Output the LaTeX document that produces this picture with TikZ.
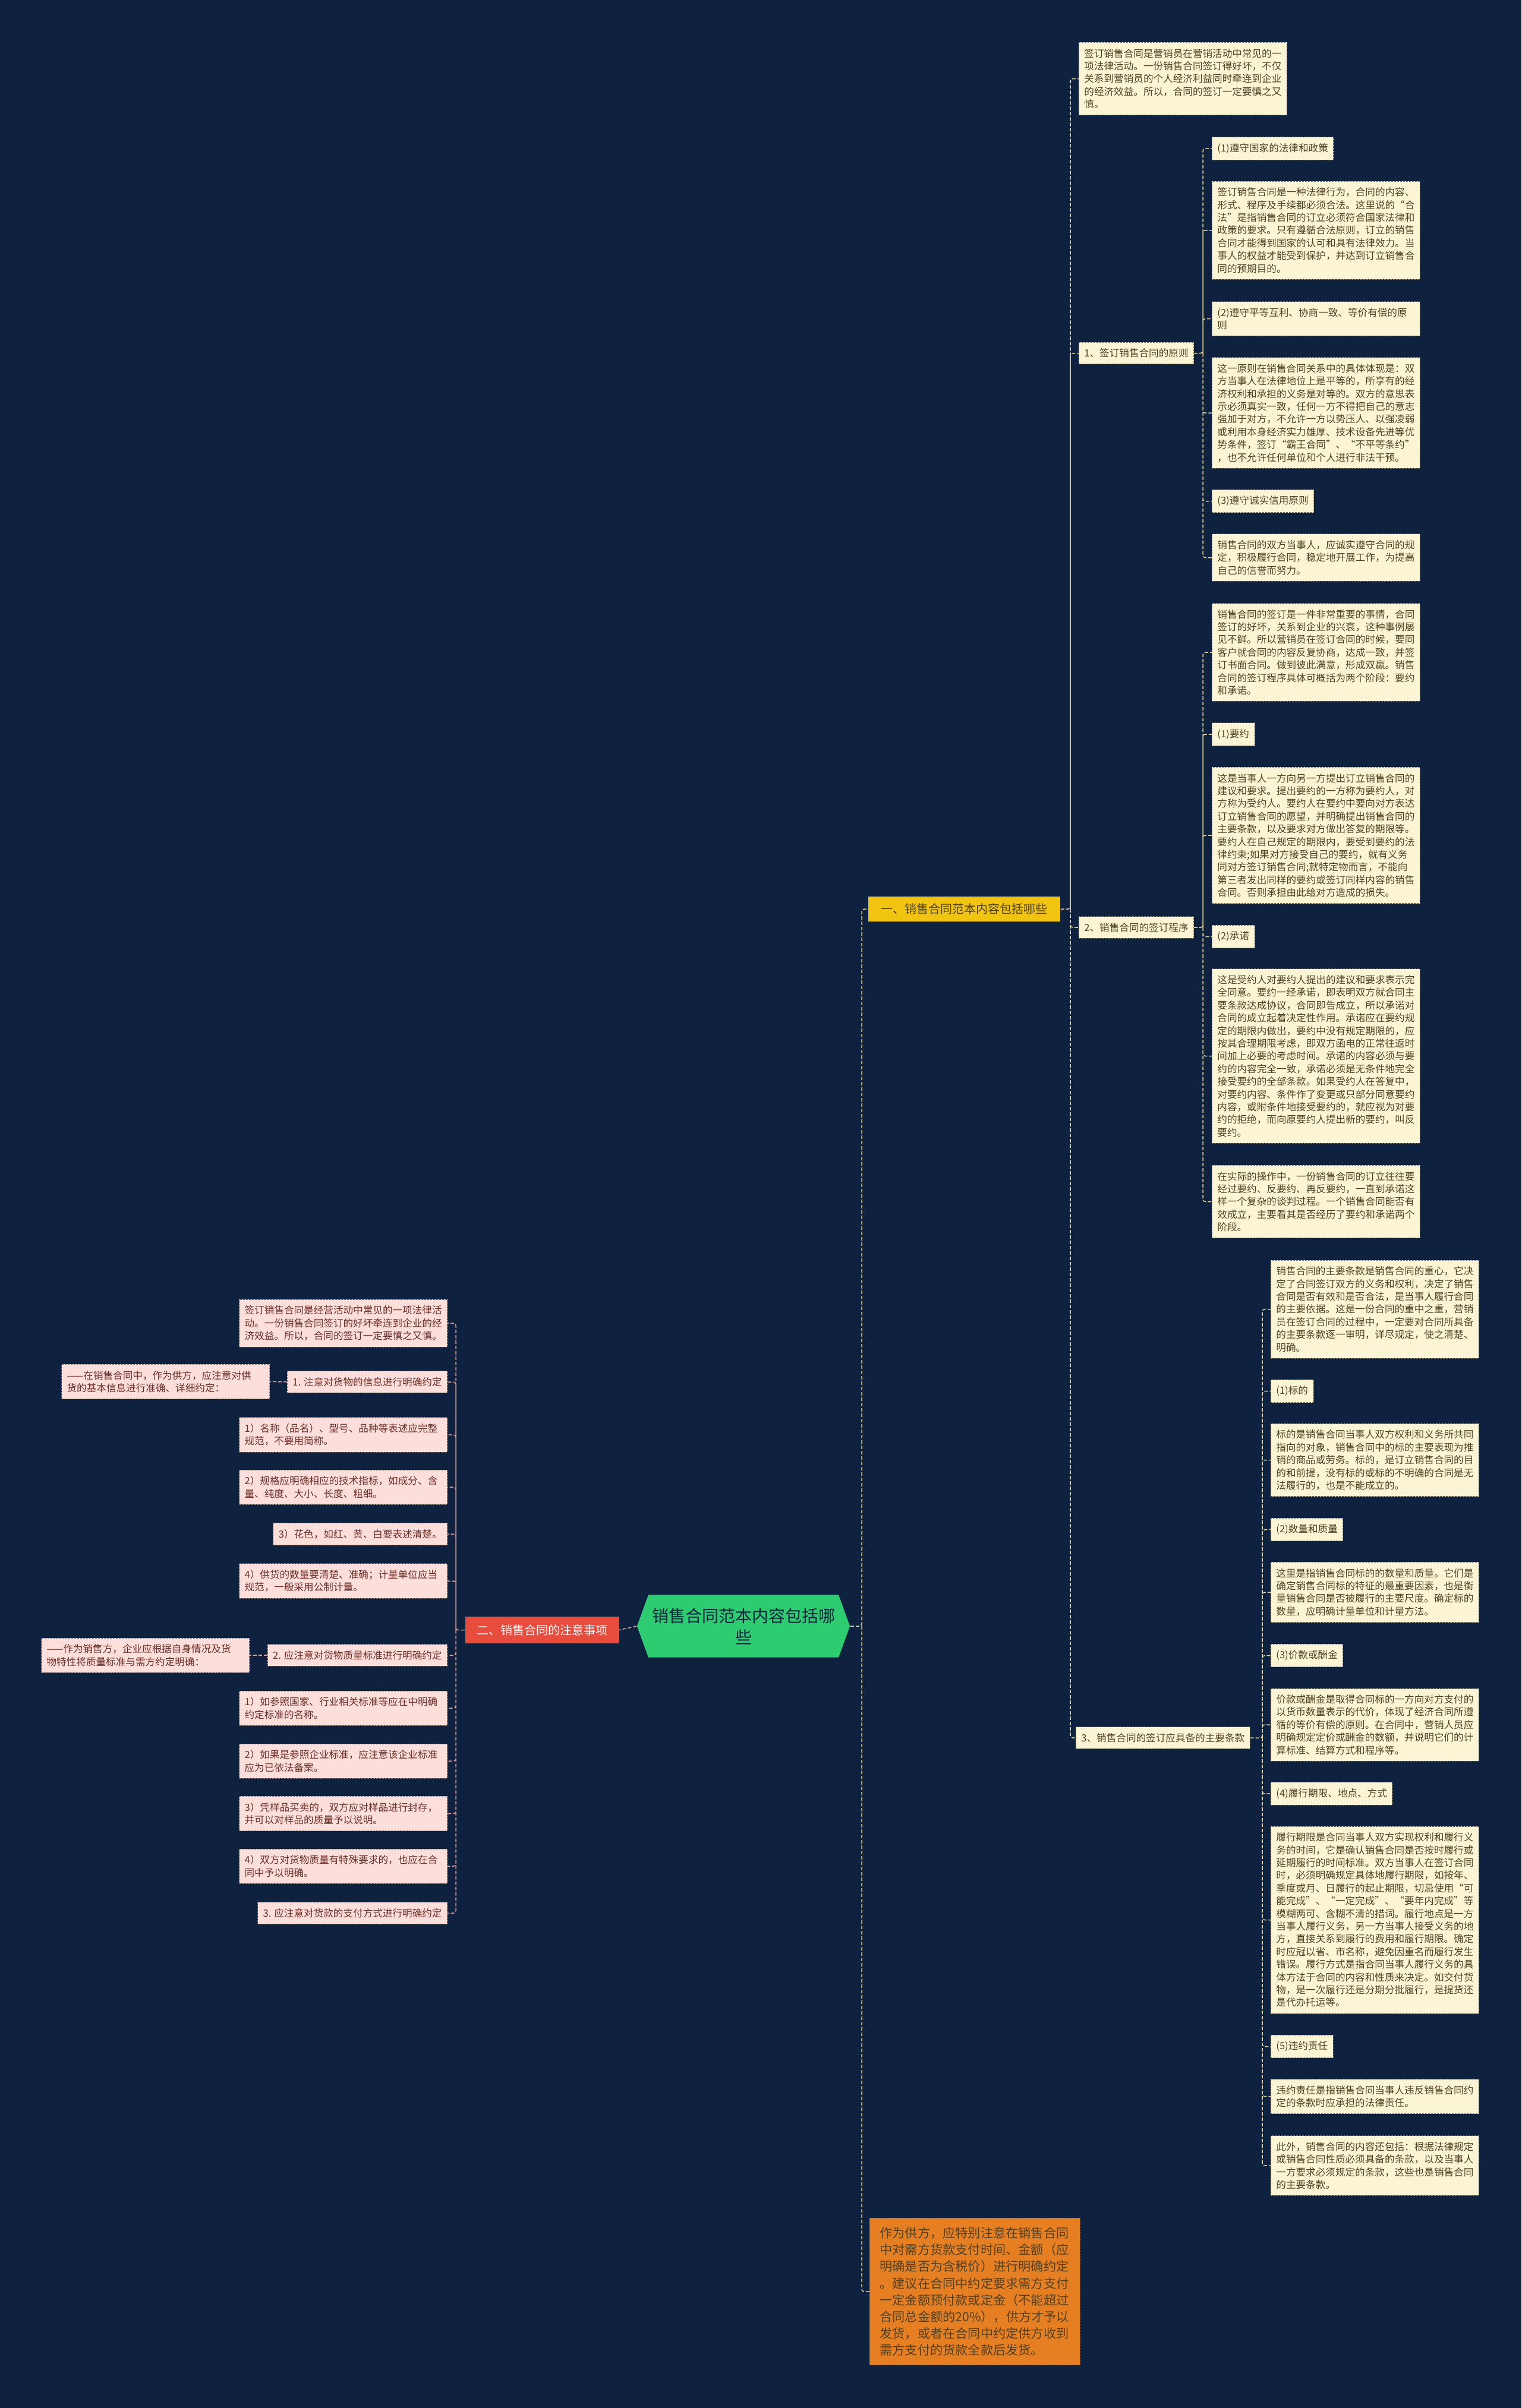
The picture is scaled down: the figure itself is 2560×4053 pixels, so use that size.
\documentclass[tikz,border=0pt]{standalone}
\usepackage{fontspec}
\setmainfont{Noto Sans CJK SC}
\usetikzlibrary{shapes.symbols}

\definecolor{bgnavy}{HTML}{0E2240}
\definecolor{creamfill}{HTML}{FCF5D5}
\definecolor{creamtext}{HTML}{4F4224}
\definecolor{pinkfill}{HTML}{FCDEDA}
\definecolor{pinktext}{HTML}{6E2E2A}
\definecolor{goldfill}{HTML}{F1C40F}
\definecolor{redfill}{HTML}{E74C3C}
\definecolor{greenfill}{HTML}{2ECC71}
\definecolor{orangefill}{HTML}{E67E22}
\definecolor{boxline}{HTML}{7A7460}
\definecolor{rline}{HTML}{E3D59C}
\definecolor{lline}{HTML}{E59A94}

\tikzset{every picture/.style={line width=0.75pt}}
\tikzset{
  rbox/.style={draw=boxline, fill=creamfill, text=creamtext, dash pattern=on 1.5pt off 1pt, line width=0.4pt,
    inner xsep=4.5pt, inner ysep=5.3pt, align=left, font=\fontsize{8.3}{10.7}\selectfont},
  rtext/.style={rbox, text width=166pt},
  lbox/.style={rbox, fill=pinkfill, text=pinktext},
  ltext/.style={lbox, text width=166pt},
  rconn/.style={draw=rline, dash pattern=on 3pt off 1.5pt, line width=0.75pt, rounded corners=2pt},
  lconn/.style={rconn, draw=lline},
}

\begin{document}
\begin{tikzpicture}[x=0.5pt,y=0.5pt,yscale=-1]
	\useasboundingbox (0,0) rectangle (2560,4053);
	\fill[bgnavy] (0,0) rectangle (2560,4053);

	% Center Node
	\node[shape=signal, signal to=west and east, signal pointer angle=140, fill=greenfill, text=bgnavy,
	  align=center, font=\fontsize{14}{18}\selectfont, inner xsep=3pt, inner ysep=11pt] (root) at (1251,2737)
	  {销售合同范本内容包括哪\\些};

	% Branch Nodes
	\node[rbox, draw=none, fill=goldfill, text=creamtext, font=\fontsize{10}{12}\selectfont, inner xsep=10.75pt, inner ysep=6pt, anchor=west] (b1) at (1461,1530) {一、销售合同范本内容包括哪些};
	\node[rbox, draw=none, fill=redfill, text=white, font=\fontsize{10}{12}\selectfont, inner xsep=9.75pt, inner ysep=6.75pt, anchor=east] (b2) at (1042,2743.5) {二、销售合同的注意事项};
	\node[rbox, fill=orangefill, text=creamtext, font=\fontsize{10.6}{14.1}\selectfont, text width=160pt, inner xsep=8.5pt, inner ysep=7.5pt, anchor=west] (b3) at (1463,3857)
	  {作为供方，应特别注意在销售合同\\中对需方货款支付时间、金额（应\\明确是否为含税价）进行明确约定\\。建议在合同中约定要求需方支付\\一定金额预付款或定金（不能超过\\合同总金额的20\%），供方才予以\\发货，或者在合同中约定供方收到\\需方支付的货款全款后发货。};

	% Text Node
	\node[rtext, anchor=west] (intro) at (1815,132.5)
	  {签订销售合同是营销员在营销活动中常见的一\\项法律活动。一份销售合同签订得好坏，不仅\\关系到营销员的个人经济利益同时牵连到企业\\的经济效益。所以，合同的签订一定要慎之又\\慎。};
	\node[rbox, anchor=west] (s1) at (1815,594.5) {1、签订销售合同的原则};
	\node[rbox, anchor=west] (s2) at (1815,1561) {2、销售合同的签订程序};
	\node[rbox, anchor=west] (s3) at (1810,2925) {3、销售合同的签订应具备的主要条款};

	% Text Node
	\node[rbox, anchor=west] (p1) at (2039,250) {(1)遵守国家的法律和政策};
	\node[rtext, anchor=west] (p1t) at (2039,387.5)
	  {签订销售合同是一种法律行为，合同的内容、\\形式、程序及手续都必须合法。这里说的“合\\法”是指销售合同的订立必须符合国家法律和\\政策的要求。只有遵循合法原则，订立的销售\\合同才能得到国家的认可和具有法律效力。当\\事人的权益才能受到保护，并达到订立销售合\\同的预期目的。};
	\node[rtext, anchor=west] (p2) at (2039,536.5) {(2)遵守平等互利、协商一致、等价有偿的原\\则};
	\node[rtext, anchor=west] (p2t) at (2039,695)
	  {这一原则在销售合同关系中的具体体现是：双\\方当事人在法律地位上是平等的，所享有的经\\济权利和承担的义务是对等的。双方的意思表\\示必须真实一致，任何一方不得把自己的意志\\强加于对方，不允许一方以势压人、以强凌弱\\或利用本身经济实力雄厚、技术设备先进等优\\势条件，签订“霸王合同”、“不平等条约”\\，也不允许任何单位和个人进行非法干预。};
	\node[rbox, anchor=west] (p3) at (2039,843.5) {(3)遵守诚实信用原则};
	\node[rtext, anchor=west] (p3t) at (2039,938.5)
	  {销售合同的双方当事人，应诚实遵守合同的规\\定，积极履行合同，稳定地开展工作，为提高\\自己的信誉而努力。};

	% Text Node
	\node[rtext, anchor=west] (q0) at (2039,1098)
	  {销售合同的签订是一件非常重要的事情，合同\\签订的好坏，关系到企业的兴衰，这种事例屡\\见不鲜。所以营销员在签订合同的时候，要同\\客户就合同的内容反复协商，达成一致，并签\\订书面合同。做到彼此满意，形成双赢。销售\\合同的签订程序具体可概括为两个阶段：要约\\和承诺。};
	\node[rbox, anchor=west] (q1) at (2039,1236) {(1)要约};
	\node[rtext, anchor=west] (q1t) at (2039,1406)
	  {这是当事人一方向另一方提出订立销售合同的\\建议和要求。提出要约的一方称为要约人，对\\方称为受约人。要约人在要约中要向对方表达\\订立销售合同的愿望，并明确提出销售合同的\\主要条款，以及要求对方做出答复的期限等。\\要约人在自己规定的期限内，要受到要约的法\\律约束;如果对方接受自己的要约，就有义务\\同对方签订销售合同;就特定物而言，不能向\\第三者发出同样的要约或签订同样内容的销售\\合同。否则承担由此给对方造成的损失。};
	\node[rbox, anchor=west] (q2) at (2039,1576.5) {(2)承诺};
	\node[rtext, anchor=west] (q2t) at (2039,1777.5)
	  {这是受约人对要约人提出的建议和要求表示完\\全同意。要约一经承诺，即表明双方就合同主\\要条款达成协议，合同即告成立，所以承诺对\\合同的成立起着决定性作用。承诺应在要约规\\定的期限内做出，要约中没有规定期限的，应\\按其合理期限考虑，即双方函电的正常往返时\\间加上必要的考虑时间。承诺的内容必须与要\\约的内容完全一致，承诺必须是无条件地完全\\接受要约的全部条款。如果受约人在答复中，\\对要约内容、条件作了变更或只部分同意要约\\内容，或附条件地接受要约的，就应视为对要\\约的拒绝，而向原要约人提出新的要约，叫反\\要约。};
	\node[rtext, anchor=west] (q3t) at (2039,2022.5)
	  {在实际的操作中，一份销售合同的订立往往要\\经过要约、反要约、再反要约，一直到承诺这\\样一个复杂的谈判过程。一个销售合同能否有\\效成立，主要看其是否经历了要约和承诺两个\\阶段。};

	% Text Node
	\node[rtext, anchor=west] (k0) at (2138,2203.5)
	  {销售合同的主要条款是销售合同的重心，它决\\定了合同签订双方的义务和权利，决定了销售\\合同是否有效和是否合法，是当事人履行合同\\的主要依据。这是一份合同的重中之重，营销\\员在签订合同的过程中，一定要对合同所具备\\的主要条款逐一审明，详尽规定，使之清楚、\\明确。};
	\node[rbox, anchor=west] (k1) at (2138,2341.5) {(1)标的};
	\node[rtext, anchor=west] (k1t) at (2138,2457.5)
	  {标的是销售合同当事人双方权利和义务所共同\\指向的对象，销售合同中的标的主要表现为推\\销的商品或劳务。标的，是订立销售合同的目\\的和前提，没有标的或标的不明确的合同是无\\法履行的，也是不能成立的。};
	\node[rbox, anchor=west] (k2) at (2138,2574.5) {(2)数量和质量};
	\node[rtext, anchor=west] (k2t) at (2138,2680)
	  {这里是指销售合同标的的数量和质量。它们是\\确定销售合同标的特征的最重要因素，也是衡\\量销售合同是否被履行的主要尺度。确定标的\\数量，应明确计量单位和计量方法。};
	\node[rbox, anchor=west] (k3) at (2138,2786.5) {(3)价款或酬金};
	\node[rtext, anchor=west] (k3t) at (2138,2903)
	  {价款或酬金是取得合同标的一方向对方支付的\\以货币数量表示的代价，体现了经济合同所遵\\循的等价有偿的原则。在合同中，营销人员应\\明确规定定价或酬金的数额，并说明它们的计\\算标准、结算方式和程序等。};
	\node[rbox, anchor=west] (k4) at (2138,3019) {(4)履行期限、地点、方式};
	\node[rtext, anchor=west] (k4t) at (2138,3231.5)
	  {履行期限是合同当事人双方实现权利和履行义\\务的时间，它是确认销售合同是否按时履行或\\延期履行的时间标准。双方当事人在签订合同\\时，必须明确规定具体地履行期限，如按年、\\季度或月、日履行的起止期限，切忌使用“可\\能完成”、“一定完成”、“要年内完成”等\\模糊两可、含糊不清的措词。履行地点是一方\\当事人履行义务，另一方当事人接受义务的地\\方，直接关系到履行的费用和履行期限。确定\\时应冠以省、市名称，避免因重名而履行发生\\错误。履行方式是指合同当事人履行义务的具\\体方法于合同的内容和性质来决定。如交付货\\物，是一次履行还是分期分批履行，是提货还\\是代办托运等。};
	\node[rbox, anchor=west] (k5) at (2138,3444.5) {(5)违约责任};
	\node[rtext, anchor=west] (k5t) at (2138,3528.5)
	  {违约责任是指销售合同当事人违反销售合同约\\定的条款时应承担的法律责任。};
	\node[rtext, anchor=west] (k6t) at (2138,3645)
	  {此外，销售合同的内容还包括：根据法律规定\\或销售合同性质必须具备的条款，以及当事人\\一方要求必须规定的条款，这些也是销售合同\\的主要条款。};

	% Text Node
	\node[ltext, anchor=east] (l0) at (753,2227)
	  {签订销售合同是经营活动中常见的一项法律活\\动。一份销售合同签订的好坏牵连到企业的经\\济效益。所以，合同的签订一定要慎之又慎。};
	\node[lbox, anchor=east] (l1) at (753,2326) {1. 注意对货物的信息进行明确约定};
	\node[ltext, anchor=east] (l1n) at (454,2325.5)
	  {——在销售合同中，作为供方，应注意对供\\货的基本信息进行准确、详细约定：};
	\node[ltext, anchor=east] (l1a) at (753,2415) {1）名称（品名）、型号、品种等表述应完整\\规范，不要用简称。};
	\node[ltext, anchor=east] (l1b) at (753,2503) {2）规格应明确相应的技术指标，如成分、含\\量、纯度、大小、长度、粗细。};
	\node[lbox, anchor=east] (l1c) at (753,2582) {3）花色，如红、黄、白要表述清楚。};
	\node[ltext, anchor=east] (l1d) at (753,2661) {4）供货的数量要清楚、准确；计量单位应当\\规范，一般采用公制计量。};
	\node[lbox, anchor=east] (l2) at (753,2786) {2. 应注意对货物质量标准进行明确约定};
	\node[ltext, anchor=east] (l2n) at (420,2786)
	  {——作为销售方，企业应根据自身情况及货\\物特性将质量标准与需方约定明确：};
	\node[ltext, anchor=east] (l2a) at (753,2875) {1）如参照国家、行业相关标准等应在中明确\\约定标准的名称。};
	\node[ltext, anchor=east] (l2b) at (753,2964) {2）如果是参照企业标准，应注意该企业标准\\应为已依法备案。};
	\node[ltext, anchor=east] (l2c) at (753,3052.5) {3）凭样品买卖的，双方应对样品进行封存，\\并可以对样品的质量予以说明。};
	\node[ltext, anchor=east] (l2d) at (753,3141) {4）双方对货物质量有特殊要求的，也应在合\\同中予以明确。};
	\node[lbox, anchor=east] (l3) at (753,3220) {3. 应注意对货款的支付方式进行明确约定};

	% Trunk Points
	\coordinate (tr) at (1450,2737);
	\coordinate (t1) at (1801,1530);
	\coordinate (ts1) at (2024,594.5);
	\coordinate (ts2) at (2024,1561);
	\coordinate (ts3) at (2124,2925);
	\coordinate (tl) at (767,2743.5);

	%Straight Lines
	\draw[rconn] (root.east) -- (tr) |- (b1.west) (tr) |- (b3.west);
	\draw[lconn] (root.west) -- (b2.east);
	\draw[rconn] (b1.east) -- (t1) |- (intro.west) (t1) |- (s1.west) (t1) |- (s2.west) (t1) |- (s3.west);
	\draw[rconn] (s1.east) -- (ts1) |- (p1.west) (ts1) |- (p1t.west) (ts1) |- (p2.west) (ts1) |- (p2t.west) (ts1) |- (p3.west) (ts1) |- (p3t.west);
	\draw[rconn] (s2.east) -- (ts2) |- (q0.west) (ts2) |- (q1.west) (ts2) |- (q1t.west) (ts2) |- (q2.west) (ts2) |- (q2t.west) (ts2) |- (q3t.west);
	\draw[rconn] (s3.east) -- (ts3) |- (k0.west) (ts3) |- (k1.west) (ts3) |- (k1t.west) (ts3) |- (k2.west) (ts3) |- (k2t.west) (ts3) |- (k3.west)
	  (ts3) |- (k3t.west) (ts3) |- (k4.west) (ts3) |- (k4t.west) (ts3) |- (k5.west) (ts3) |- (k5t.west) (ts3) |- (k6t.west);
	\draw[lconn] (b2.west) -- (tl) |- (l0.east) (tl) |- (l1.east) (tl) |- (l1a.east) (tl) |- (l1b.east) (tl) |- (l1c.east) (tl) |- (l1d.east)
	  (tl) |- (l2.east) (tl) |- (l2a.east) (tl) |- (l2b.east) (tl) |- (l2c.east) (tl) |- (l2d.east) (tl) |- (l3.east);
	\draw[lconn] (l1.west) -- (l1n.east);
	\draw[lconn] (l2.west) -- (l2n.east);

\end{tikzpicture}
\end{document}
